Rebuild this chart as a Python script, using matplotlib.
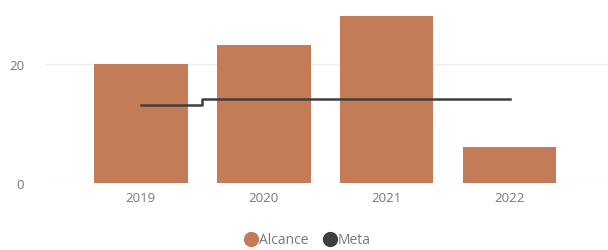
import numpy as np
import matplotlib.pyplot as plt
from matplotlib.lines import Line2D

# datos
anos = ['2019', '2020', '2021', '2022']
alcance = [20.0, 23.2, 28.1, 6.1]
meta = [13.1, 14.1, 14.1, 14.1]

plt.rcParams['font.family'] = ['Open Sans', 'DejaVu Sans']

fig = plt.figure(figsize=(6.08, 2.51), dpi=100)
ax = fig.add_axes([0.074, 0.267, 0.926, 0.699])

x = np.arange(len(anos))
ax.bar(x, alcance, width=0.76, color='#C47C58', zorder=2)
ax.plot(x, meta, color='#3F3F3F', linewidth=1.8, drawstyle='steps-mid', zorder=3)

ax.set_xlim(-0.78, 3.8)
ax.set_ylim(0, 29.5)
ax.set_yticks([0, 20])
ax.set_xticks(x)
ax.set_xticklabels(anos)
ax.grid(axis='y', color='#EEEEEE', linewidth=1, zorder=0)
for s in ax.spines.values():
    s.set_visible(False)
ax.tick_params(length=0, colors='#777777', labelsize=9.5)
ax.tick_params(axis='y', pad=15)
ax.tick_params(axis='x', pad=6)

# leyenda
handles = [Line2D([], [], marker='o', linestyle='', color='#C47C58', markersize=10),
           Line2D([], [], marker='o', linestyle='', color='#3F3F3F', markersize=10)]
fig.legend(handles, ['Alcance', 'Meta'], loc='center', bbox_to_anchor=(0.5, 0.04),
           ncol=2, frameon=False, handletextpad=-0.4, columnspacing=0.5,
           labelcolor='#777777', fontsize=10)

fig.savefig('out.png', dpi=100)
